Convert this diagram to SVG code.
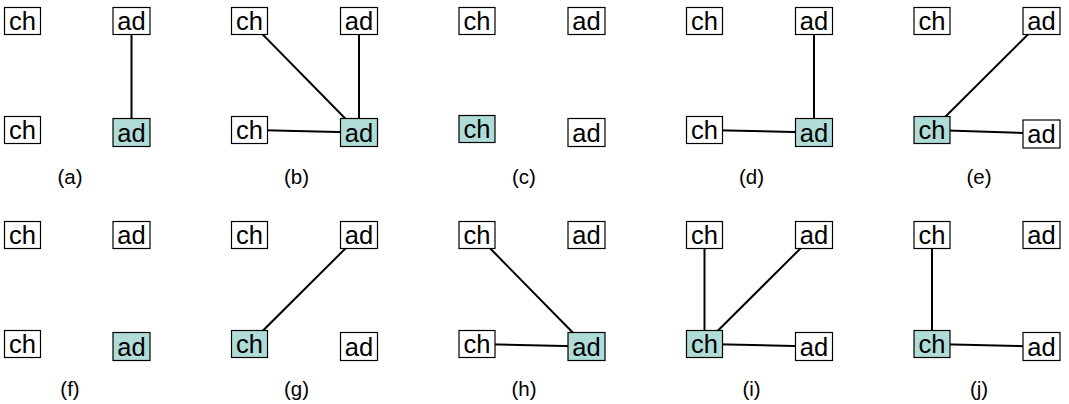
<svg xmlns="http://www.w3.org/2000/svg" width="1069" height="404" viewBox="0 0 1069 404">
  <style>
    .box { fill: #ffffff; stroke: #000000; stroke-width: 1.2; }
    .hl { fill: #b0dcd8; }
    .lbl { font-family: "Liberation Sans", Arial, sans-serif; font-size: 25.5px; fill: #000; text-anchor: middle; }
    .cap { font-family: "Liberation Sans", Arial, sans-serif; font-size: 20.5px; fill: #000; text-anchor: middle; }
    .edge { stroke: #000000; stroke-width: 2; fill: none; }
  </style>
  <rect width="1069" height="404" fill="#ffffff"/>

  <!-- Panel layout: column i at x = 4 + 227.5*i; row 2 shifted down 214px.
       ch nodes: top (x, 7.5) bottom (x, 116.5), 36x27.
       ad nodes: top (x+109, 7.5) bottom (x+109, 118.5), 37x28. -->

  <!-- connectors (drawn under the nodes, centre to centre) -->
  <g id="connectors">
    <!-- (a) -->
    <line class="edge" x1="131.5" y1="21" x2="131.5" y2="132.5"/>
    <!-- (b) -->
    <line class="edge" x1="249.5" y1="21" x2="359" y2="132.5"/>
    <line class="edge" x1="359" y1="21" x2="359" y2="132.5"/>
    <line class="edge" x1="249.5" y1="130" x2="359" y2="132.5"/>
    <!-- (d) -->
    <line class="edge" x1="814" y1="21" x2="814" y2="132.5"/>
    <line class="edge" x1="704.5" y1="130" x2="814" y2="132.5"/>
    <!-- (e) -->
    <line class="edge" x1="1041.5" y1="21" x2="932" y2="130"/>
    <line class="edge" x1="932" y1="130" x2="1041.5" y2="133.5"/>
    <!-- (g) -->
    <line class="edge" x1="359" y1="235" x2="249.5" y2="344"/>
    <!-- (h) -->
    <line class="edge" x1="477" y1="235" x2="586.5" y2="346.5"/>
    <line class="edge" x1="477" y1="344" x2="586.5" y2="346.5"/>
    <!-- (i) -->
    <line class="edge" x1="704.5" y1="235" x2="704.5" y2="344"/>
    <line class="edge" x1="814" y1="235" x2="704.5" y2="344"/>
    <line class="edge" x1="704.5" y1="344" x2="814" y2="346.5"/>
    <!-- (j) -->
    <line class="edge" x1="932" y1="235" x2="932" y2="344"/>
    <line class="edge" x1="932" y1="344" x2="1041.5" y2="346.5"/>
  </g>

  <!-- (a) -->
  <g id="a-ch-top"><rect class="box" x="4.5" y="7.5" width="36" height="27"/><text class="lbl" x="22.5" y="30">ch</text></g>
  <g id="a-ad-top"><rect class="box" x="113" y="7.5" width="37" height="27"/><text class="lbl" x="131.5" y="30">ad</text></g>
  <g id="a-ch-bot"><rect class="box" x="4.5" y="116.5" width="36" height="27"/><text class="lbl" x="22.5" y="139">ch</text></g>
  <g id="a-ad-bot"><rect class="box hl" x="113" y="118.5" width="37" height="28"/><text class="lbl" x="131.5" y="141.5">ad</text></g>
  <text id="cap-a" class="cap" x="70" y="184">(a)</text>

  <!-- (b) -->
  <g id="b-ch-top"><rect class="box" x="231.5" y="7.5" width="36" height="27"/><text class="lbl" x="249.5" y="30">ch</text></g>
  <g id="b-ad-top"><rect class="box" x="340.5" y="7.5" width="37" height="27"/><text class="lbl" x="359" y="30">ad</text></g>
  <g id="b-ch-bot"><rect class="box" x="231.5" y="116.5" width="36" height="27"/><text class="lbl" x="249.5" y="139">ch</text></g>
  <g id="b-ad-bot"><rect class="box hl" x="340.5" y="118.5" width="37" height="28"/><text class="lbl" x="359" y="141.5">ad</text></g>
  <text id="cap-b" class="cap" x="296.5" y="184">(b)</text>

  <!-- (c) -->
  <g id="c-ch-top"><rect class="box" x="459" y="7.5" width="36" height="27"/><text class="lbl" x="477" y="30">ch</text></g>
  <g id="c-ad-top"><rect class="box" x="568" y="7.5" width="37" height="27"/><text class="lbl" x="586.5" y="30">ad</text></g>
  <g id="c-ch-bot"><rect class="box hl" x="459" y="115.5" width="36" height="27"/><text class="lbl" x="477" y="138">ch</text></g>
  <g id="c-ad-bot"><rect class="box" x="568" y="118.5" width="37" height="28"/><text class="lbl" x="586.5" y="141.5">ad</text></g>
  <text id="cap-c" class="cap" x="524" y="184">(c)</text>

  <!-- (d) -->
  <g id="d-ch-top"><rect class="box" x="686.5" y="7.5" width="36" height="27"/><text class="lbl" x="704.5" y="30">ch</text></g>
  <g id="d-ad-top"><rect class="box" x="795.5" y="7.5" width="37" height="27"/><text class="lbl" x="814" y="30">ad</text></g>
  <g id="d-ch-bot"><rect class="box" x="686.5" y="116.5" width="36" height="27"/><text class="lbl" x="704.5" y="139">ch</text></g>
  <g id="d-ad-bot"><rect class="box hl" x="795.5" y="118.5" width="37" height="28"/><text class="lbl" x="814" y="141.5">ad</text></g>
  <text id="cap-d" class="cap" x="751.5" y="184">(d)</text>

  <!-- (e) -->
  <g id="e-ch-top"><rect class="box" x="914" y="7.5" width="36" height="27"/><text class="lbl" x="932" y="30">ch</text></g>
  <g id="e-ad-top"><rect class="box" x="1023" y="7.5" width="37" height="27"/><text class="lbl" x="1041.5" y="30">ad</text></g>
  <g id="e-ch-bot"><rect class="box hl" x="914" y="116.5" width="36" height="27"/><text class="lbl" x="932" y="139">ch</text></g>
  <g id="e-ad-bot"><rect class="box" x="1023" y="120" width="37" height="28"/><text class="lbl" x="1041.5" y="143">ad</text></g>
  <text id="cap-e" class="cap" x="979" y="184">(e)</text>

  <!-- (f) -->
  <g id="f-ch-top"><rect class="box" x="4.5" y="221.5" width="36" height="27"/><text class="lbl" x="22.5" y="244">ch</text></g>
  <g id="f-ad-top"><rect class="box" x="113" y="221.5" width="37" height="27"/><text class="lbl" x="131.5" y="244">ad</text></g>
  <g id="f-ch-bot"><rect class="box" x="4.5" y="330.5" width="36" height="27"/><text class="lbl" x="22.5" y="353">ch</text></g>
  <g id="f-ad-bot"><rect class="box hl" x="113" y="332.5" width="37" height="28"/><text class="lbl" x="131.5" y="355.5">ad</text></g>
  <text id="cap-f" class="cap" x="70" y="396">(f)</text>

  <!-- (g) -->
  <g id="g-ch-top"><rect class="box" x="231.5" y="221.5" width="36" height="27"/><text class="lbl" x="249.5" y="244">ch</text></g>
  <g id="g-ad-top"><rect class="box" x="340.5" y="221.5" width="37" height="27"/><text class="lbl" x="359" y="244">ad</text></g>
  <g id="g-ch-bot"><rect class="box hl" x="231.5" y="330.5" width="36" height="27"/><text class="lbl" x="249.5" y="353">ch</text></g>
  <g id="g-ad-bot"><rect class="box" x="340.5" y="332.5" width="37" height="28"/><text class="lbl" x="359" y="355.5">ad</text></g>
  <text id="cap-g" class="cap" x="296.5" y="396">(g)</text>

  <!-- (h) -->
  <g id="h-ch-top"><rect class="box" x="459" y="221.5" width="36" height="27"/><text class="lbl" x="477" y="244">ch</text></g>
  <g id="h-ad-top"><rect class="box" x="568" y="221.5" width="37" height="27"/><text class="lbl" x="586.5" y="244">ad</text></g>
  <g id="h-ch-bot"><rect class="box" x="459" y="330.5" width="36" height="27"/><text class="lbl" x="477" y="353">ch</text></g>
  <g id="h-ad-bot"><rect class="box hl" x="568" y="332.5" width="37" height="28"/><text class="lbl" x="586.5" y="355.5">ad</text></g>
  <text id="cap-h" class="cap" x="524" y="396">(h)</text>

  <!-- (i) -->
  <g id="i-ch-top"><rect class="box" x="686.5" y="221.5" width="36" height="27"/><text class="lbl" x="704.5" y="244">ch</text></g>
  <g id="i-ad-top"><rect class="box" x="795.5" y="221.5" width="37" height="27"/><text class="lbl" x="814" y="244">ad</text></g>
  <g id="i-ch-bot"><rect class="box hl" x="686.5" y="330.5" width="36" height="27"/><text class="lbl" x="704.5" y="353">ch</text></g>
  <g id="i-ad-bot"><rect class="box" x="795.5" y="332.5" width="37" height="28"/><text class="lbl" x="814" y="355.5">ad</text></g>
  <text id="cap-i" class="cap" x="751.5" y="396">(i)</text>

  <!-- (j) -->
  <g id="j-ch-top"><rect class="box" x="914" y="221.5" width="36" height="27"/><text class="lbl" x="932" y="244">ch</text></g>
  <g id="j-ad-top"><rect class="box" x="1023" y="221.5" width="37" height="27"/><text class="lbl" x="1041.5" y="244">ad</text></g>
  <g id="j-ch-bot"><rect class="box hl" x="914" y="330.5" width="36" height="27"/><text class="lbl" x="932" y="353">ch</text></g>
  <g id="j-ad-bot"><rect class="box" x="1023" y="332.5" width="37" height="28"/><text class="lbl" x="1041.5" y="355.5">ad</text></g>
  <text id="cap-j" class="cap" x="979" y="396">(j)</text>
</svg>
